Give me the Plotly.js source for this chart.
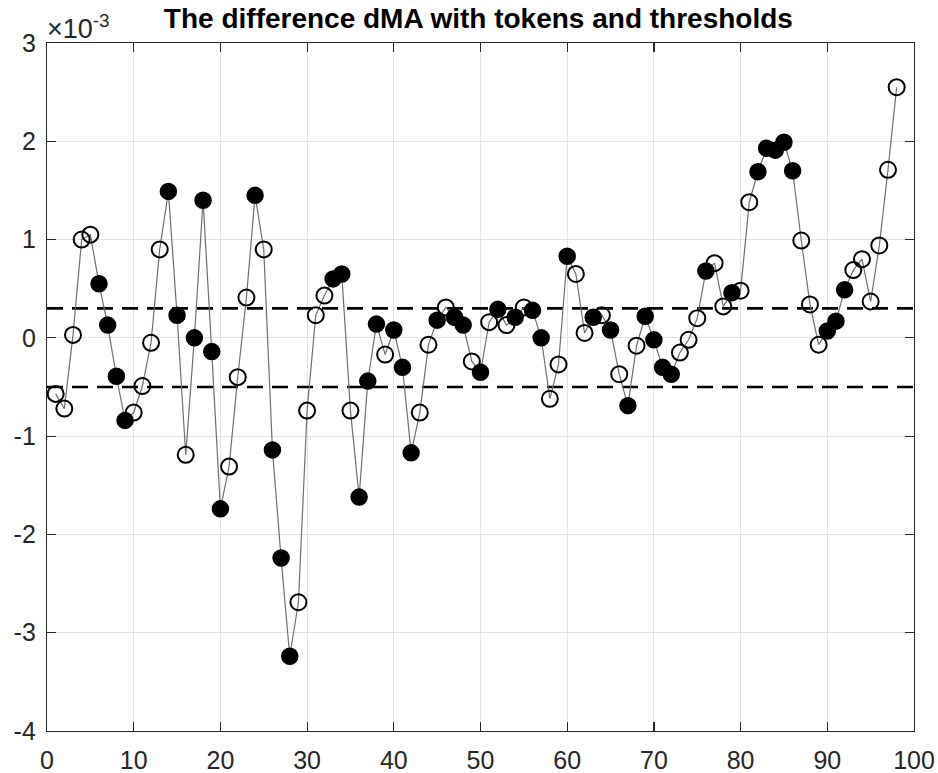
<!DOCTYPE html>
<html>
<head>
<meta charset="utf-8">
<script src="https://cdn.plot.ly/plotly-3.0.1.min.js"></script>
<style>
  html, body { margin: 0; padding: 0; background: #ffffff; }
  #chart { width: 938px; height: 773px; }
</style>
</head>
<body>
<div id="chart"></div>
<script>
// sample index
const sampleIndex = [
  1,2,3,4,5,6,7,8,9,10,11,12,13,14,15,16,17,18,19,20,
  21,22,23,24,25,26,27,28,29,30,31,32,33,34,35,36,37,38,39,40,
  41,42,43,44,45,46,47,48,49,50,51,52,53,54,55,56,57,58,59,60,
  61,62,63,64,65,66,67,68,69,70,71,72,73,74,75,76,77,78,79,80,
  81,82,83,84,85,86,87,88,89,90,91,92,93,94,95,96,97,98
];
// difference dMA, in units of 1e-3
const dMA = [
  -0.57,-0.72,0.03,1.00,1.05,0.55,0.13,-0.39,-0.84,-0.76,
  -0.49,-0.05,0.90,1.49,0.23,-1.19,0.00,1.40,-0.14,-1.74,
  -1.31,-0.40,0.41,1.45,0.90,-1.14,-2.24,-3.24,-2.69,-0.74,
  0.23,0.43,0.60,0.65,-0.74,-1.62,-0.44,0.14,-0.17,0.08,
  -0.30,-1.17,-0.76,-0.07,0.18,0.31,0.21,0.13,-0.24,-0.35,
  0.16,0.29,0.13,0.21,0.31,0.28,0.00,-0.62,-0.27,0.83,
  0.65,0.05,0.21,0.23,0.08,-0.37,-0.69,-0.08,0.22,-0.02,
  -0.30,-0.37,-0.15,-0.02,0.20,0.68,0.76,0.32,0.46,0.48,
  1.38,1.69,1.93,1.91,1.99,1.70,0.99,0.34,-0.07,0.07,
  0.17,0.49,0.69,0.80,0.37,0.94,1.71,2.55
];
// token flag per sample (1 = token, filled marker)
const tokens = [
  0,0,0,0,0,1,1,1,1,0,
  0,0,0,1,1,0,1,1,1,1,
  0,0,0,1,0,1,1,1,0,0,
  0,0,1,1,0,1,1,1,0,1,
  1,1,0,0,1,0,1,1,0,1,
  0,1,0,1,0,1,1,0,0,1,
  0,0,1,0,1,0,1,0,1,1,
  1,1,0,0,0,1,0,0,1,0,
  0,1,1,1,1,1,0,0,0,1,
  1,1,0,0,0,0,0,0
];
// thresholds (units of 1e-3)
const upperThreshold = 0.3;
const lowerThreshold = -0.5;
const xRange = [0, 100];
const yRange = [-4, 3];
const xTicks = [0,10,20,30,40,50,60,70,80,90,100];
const yTicks = [-4,-3,-2,-1,0,1,2,3];

const tokX = [], tokY = [], opX = [], opY = [];
for (let i = 0; i < sampleIndex.length; i++) {
  if (tokens[i]) { tokX.push(sampleIndex[i]); tokY.push(dMA[i]); }
  else { opX.push(sampleIndex[i]); opY.push(dMA[i]); }
}

const traces = [
  { x: xRange, y: [upperThreshold, upperThreshold], mode: 'lines',
    line: { color: '#000000', width: 2.6, dash: '16px,9px' }, hoverinfo: 'skip', showlegend: false },
  { x: xRange, y: [lowerThreshold, lowerThreshold], mode: 'lines',
    line: { color: '#000000', width: 2.6, dash: '16px,9px' }, hoverinfo: 'skip', showlegend: false },
  { x: sampleIndex, y: dMA, mode: 'lines',
    line: { color: '#6e6e6e', width: 1.2 }, showlegend: false },
  { x: opX, y: opY, mode: 'markers',
    marker: { symbol: 'circle-open', size: 16, color: '#000000', line: { width: 2, color: '#000000' } },
    showlegend: false },
  { x: tokX, y: tokY, mode: 'markers',
    marker: { symbol: 'circle', size: 16, color: '#000000', line: { width: 1.5, color: '#000000' } },
    showlegend: false }
];

const tickFont = { family: 'Liberation Sans, Arial, sans-serif', size: 25, color: '#262626' };
const axisCommon = {
  showline: true, linecolor: '#262626', linewidth: 1.2, mirror: 'ticks',
  ticks: 'inside', ticklen: 9, tickwidth: 1.2, tickcolor: '#262626',
  showgrid: true, gridcolor: '#e3e3e3', gridwidth: 1, zeroline: false,
  tickfont: tickFont
};

const layout = {
  width: 938, height: 773,
  margin: { l: 47, r: 24, t: 43, b: 42 },
  paper_bgcolor: '#ffffff', plot_bgcolor: '#ffffff',
  title: { text: '<b>The difference dMA with tokens and thresholds</b>',
    font: { family: 'Liberation Sans, Arial, sans-serif', size: 28, color: '#000000' },
    x: 0.51, xanchor: 'center', y: 0.977, yanchor: 'middle' },
  xaxis: Object.assign({}, axisCommon, { range: xRange, tickvals: xTicks, ticktext: xTicks.map(String), ticklabelstandoff: 7 }),
  yaxis: Object.assign({}, axisCommon, { range: yRange, tickvals: yTicks, ticktext: yTicks.map(String), ticklabelstandoff: 5 }),
  annotations: [{
    text: '×10<sup>-3</sup>', xref: 'paper', yref: 'paper', x: 0, y: 1, xanchor: 'left', yanchor: 'bottom',
    showarrow: false, font: { family: 'Liberation Sans, Arial, sans-serif', size: 27, color: '#262626' }, yshift: -3, xshift: -2
  }]
};

Plotly.newPlot('chart', traces, layout, { displayModeBar: false, staticPlot: true });
</script>
</body>
</html>
